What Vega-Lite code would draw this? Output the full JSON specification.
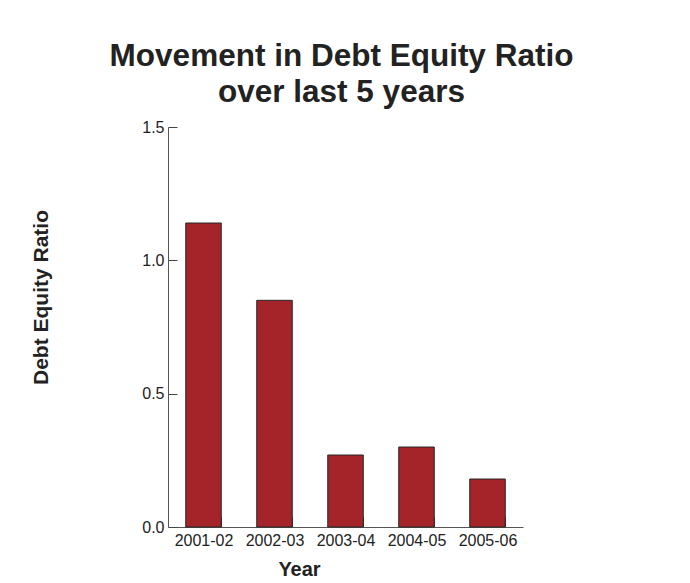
{
  "$schema": "https://vega.github.io/schema/vega-lite/v6.json",
  "width": 355,
  "height": 400,
  "autosize": {"type": "none"},
  "padding": {"left": 168, "top": 127, "right": 167, "bottom": 56},
  "background": "white",
  "title": {
    "text": ["Movement in Debt Equity Ratio", "over last 5 years"],
    "font": "Liberation Sans",
    "fontSize": 31.5,
    "fontWeight": "bold",
    "lineHeight": 36,
    "color": "#222222",
    "anchor": "middle",
    "dx": -4,
    "offset": 11
  },
  "data": {
    "values": [
      {"year": "2001-02", "ratio": 1.14},
      {"year": "2002-03", "ratio": 0.85},
      {"year": "2003-04", "ratio": 0.27},
      {"year": "2004-05", "ratio": 0.30},
      {"year": "2005-06", "ratio": 0.18}
    ]
  },
  "mark": {"type": "bar", "fill": "#a52429", "stroke": "#262626", "strokeWidth": 1},
  "encoding": {
    "x": {
      "field": "year",
      "type": "nominal",
      "sort": null,
      "scale": {"paddingInner": 0.5, "paddingOuter": 0.25},
      "axis": {
        "title": "Year",
        "labelAngle": 0,
        "tickBand": "extent",
        "tickSize": -10,
        "tickColor": "#444444",
        "domainColor": "#555555",
        "labelPadding": 15,
        "labelFont": "Liberation Sans",
        "labelFontSize": 16,
        "labelColor": "#222222",
        "titleFont": "Liberation Sans",
        "titleFontSize": 20,
        "titleFontWeight": "bold",
        "titleColor": "#222222",
        "titleX": 131,
        "titleY": 48,
        "titleBaseline": "alphabetic",
        "titleAlign": "center",
        "grid": false
      }
    },
    "y": {
      "field": "ratio",
      "type": "quantitative",
      "scale": {"domain": [0, 1.5]},
      "axis": {
        "title": "Debt Equity Ratio",
        "values": [0, 0.5, 1, 1.5],
        "format": ".1f",
        "tickSize": -9,
        "tickColor": "#444444",
        "domainColor": "#555555",
        "labelPadding": 13,
        "labelFont": "Liberation Sans",
        "labelFontSize": 16,
        "labelColor": "#222222",
        "titleFont": "Liberation Sans",
        "titleFontSize": 21,
        "titleFontWeight": "bold",
        "titleColor": "#222222",
        "titleAngle": 270,
        "titleX": -121,
        "titleY": 170,
        "titleBaseline": "alphabetic",
        "titleAlign": "center",
        "grid": false
      }
    }
  },
  "config": {"view": {"stroke": null}}
}
